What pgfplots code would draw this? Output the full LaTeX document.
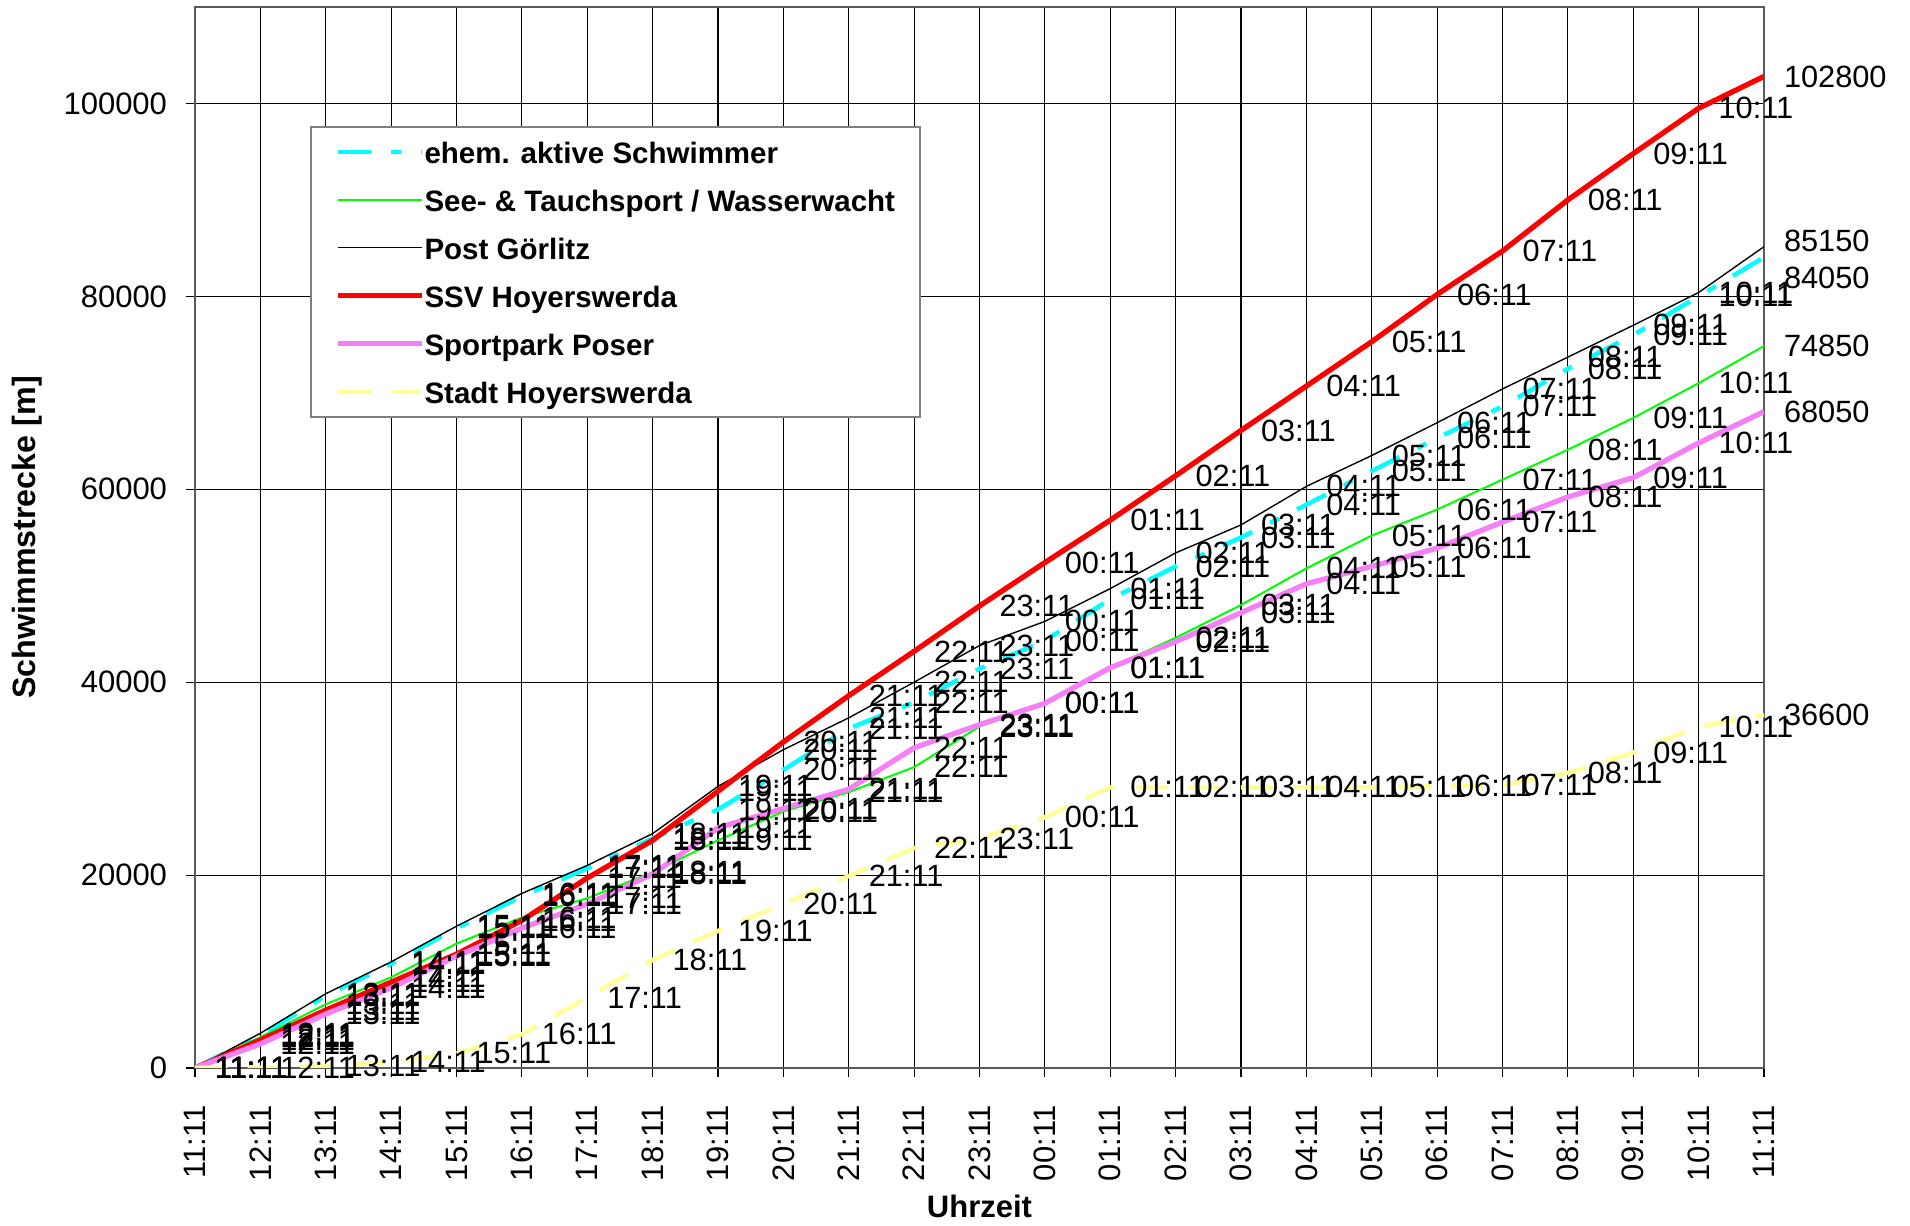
\documentclass[border=0pt]{standalone}
\usepackage{pgfplots}
\usepackage{pgfplotstable}
\usepackage{fontspec}
\setmainfont{Liberation Sans}
\pgfplotsset{compat=1.18}

\definecolor{cyanline}{RGB}{0,255,255}
\definecolor{greenline}{RGB}{0,255,0}
\definecolor{redline}{RGB}{255,0,0}
\definecolor{pinkline}{RGB}{245,128,245}
\definecolor{yellowline}{RGB}{255,255,153}
\definecolor{axisgray}{RGB}{128,128,128}

% Schwimmstrecke in m, h = Stunden seit 11:11
\pgfplotstableread{
h  lab    ehem   see    post   ssv     poser  stadt
0  11:11  0      0      0      0       0      0
1  12:11  3400   3200   3600   2900    2500   0
2  13:11  7500   6600   7700   6000    5600   200
3  14:11  10800  9400   11000  8900    8300   600
4  15:11  14500  12900  14700  11800   11600  1500
5  16:11  17800  15600  18100  15300   14500  3500
6  17:11  20700  17600  21000  19700   17000  7300
7  18:11  23800  20300  24300  23600   20100  11200
8  19:11  26800  23600  29200  28700   24900  14200
9  20:11  30900  26600  33000  33800   26900  17000
10 21:11  35200  28600  36300  38600   28900  19900
11 22:11  37900  31200  40000  43200   33200  22800
12 23:11  41400  35400  43800  47900   35600  23800
13 00:11  44300  37800  46300  52400   37800  26000
14 01:11  48600  41500  49700  56800   41500  29100
15 02:11  52000  44600  53400  61400   44200  29100
16 03:11  55000  48000  56300  66100   47200  29100
17 04:11  58400  51800  60300  70700   50200  29100
18 05:11  61900  55200  63500  75300   52000  29100
19 06:11  65300  57900  66900  80200   53900  29200
20 07:11  68600  61000  70400  84700   56600  29300
21 08:11  72500  64100  73700  90000   59200  30600
22 09:11  76000  67400  77000  94800   61200  32700
23 10:11  80000  71000  80400  99500   64800  35400
24 11:11  84050  74850  85150  102800  68050  36600
}\strecke

\pgfplotsset{
  labelplot/.style={draw=none, mark=none, forget plot,
    nodes near coords, point meta=explicit symbolic,
    skip coords between index={24}{25}},
  endplot/.style={draw=none, mark=none, forget plot,
    nodes near coords, point meta=explicit symbolic},
  every node near coord/.append style={anchor=west, inner sep=0pt,
    xshift=7.8pt, text=black,
    font=\fontsize{12.3}{14}\selectfont},
}

\begin{document}
\begin{tikzpicture}
\useasboundingbox (0,0) rectangle (764pt,490.4pt);
\begin{axis}[
  at={(78pt,63.2pt)}, anchor=south west,
  scale only axis, width=627.6pt, height=424.4pt,
  xmin=0, xmax=24, ymin=0, ymax=110000,
  xtick={0,...,24},
  xticklabels={11:11,12:11,13:11,14:11,15:11,16:11,17:11,18:11,19:11,20:11,21:11,22:11,23:11,00:11,01:11,02:11,03:11,04:11,05:11,06:11,07:11,08:11,09:11,10:11,11:11},
  ytick={0,20000,...,100000},
  scaled y ticks=false,
  yticklabel style={/pgf/number format/fixed, /pgf/number format/1000 sep={}},
  /pgf/number format/assume math mode=true,
  grid=major,
  major grid style={black, line width=0.45pt},
  axis line style={axisgray!70!black, line width=0.8pt},
  tick pos=left, tick align=outside, major tick length=3.6pt,
  tick style={black, line width=0.45pt},
  tick label style={font=\fontsize{12.4}{14}\selectfont},
  xticklabel style={rotate=90, anchor=east, inner sep=0pt},
  yticklabel style={anchor=east, inner sep=0pt},
  xticklabel shift=11.3pt, yticklabel shift=7.4pt,
  xlabel={Uhrzeit}, ylabel={Schwimmstrecke [m]},
  xlabel style={font=\bfseries\fontsize{12.4}{14}\selectfont,
    at={(axis description cs:0.5,-0.130)}, anchor=center},
  ylabel style={font=\bfseries\fontsize{12.9}{14}\selectfont,
    at={(axis description cs:-0.1071,0.5)}, anchor=center},
  legend image code/.code={\draw[#1] (0pt,0pt) -- (33.4pt,0pt);},
  legend cell align=left,
  legend style={at={(rel axis cs:0.0733,0.8878)}, anchor=north west,
    draw=axisgray, line width=0.6pt, fill=white,
    font=\bfseries\fontsize{11.8}{14}\selectfont,
    inner xsep=10pt, inner ysep=4.2pt, row sep=7.6pt,
    nodes={text height=10.5pt, text depth=1.1pt, inner sep=0pt}},
]
\addplot[cyanline, line width=1.8pt, dash pattern=on 13pt off 8pt on 4pt off 8pt] table[x=h, y=ehem] {\strecke};
\addlegendentry{ehem. aktive Schwimmer}
\addplot[greenline, line width=0.8pt] table[x=h, y=see] {\strecke};
\addlegendentry{See- \& Tauchsport / Wasserwacht}
\addplot[black, line width=0.55pt] table[x=h, y=post] {\strecke};
\addlegendentry{Post Görlitz}
\addplot[redline, line width=2.1pt, line join=round] table[x=h, y=ssv] {\strecke};
\addlegendentry{SSV Hoyerswerda}
\addplot[pinkline, line width=2.1pt, line join=round] table[x=h, y=poser] {\strecke};
\addlegendentry{Sportpark Poser}
\addplot[yellowline, line width=1.8pt, dash pattern=on 13pt off 8pt] table[x=h, y=stadt] {\strecke};
\addlegendentry{Stadt Hoyerswerda}

% Datenbeschriftungen (Uhrzeit an jedem Punkt, Endwert am letzten)
\addplot[labelplot] table[x=h, y=ehem, meta=lab] {\strecke};
\addplot[labelplot] table[x=h, y=see, meta=lab] {\strecke};
\addplot[labelplot] table[x=h, y=post, meta=lab] {\strecke};
\addplot[labelplot] table[x=h, y=ssv, meta=lab] {\strecke};
\addplot[labelplot] table[x=h, y=poser, meta=lab] {\strecke};
\addplot[labelplot] table[x=h, y=stadt, meta=lab] {\strecke};
\addplot[endplot] coordinates {(24,102800) [102800] (24,74850) [74850]
                               (24,68050) [68050] (24,36600) [36600]};
\addplot[endplot, every node near coord/.append style={yshift=2.5pt}]
  coordinates {(24,85150) [85150]};
\addplot[endplot, every node near coord/.append style={yshift=-8.3pt}]
  coordinates {(24,84050) [84050]};
\end{axis}
\end{tikzpicture}
\end{document}
